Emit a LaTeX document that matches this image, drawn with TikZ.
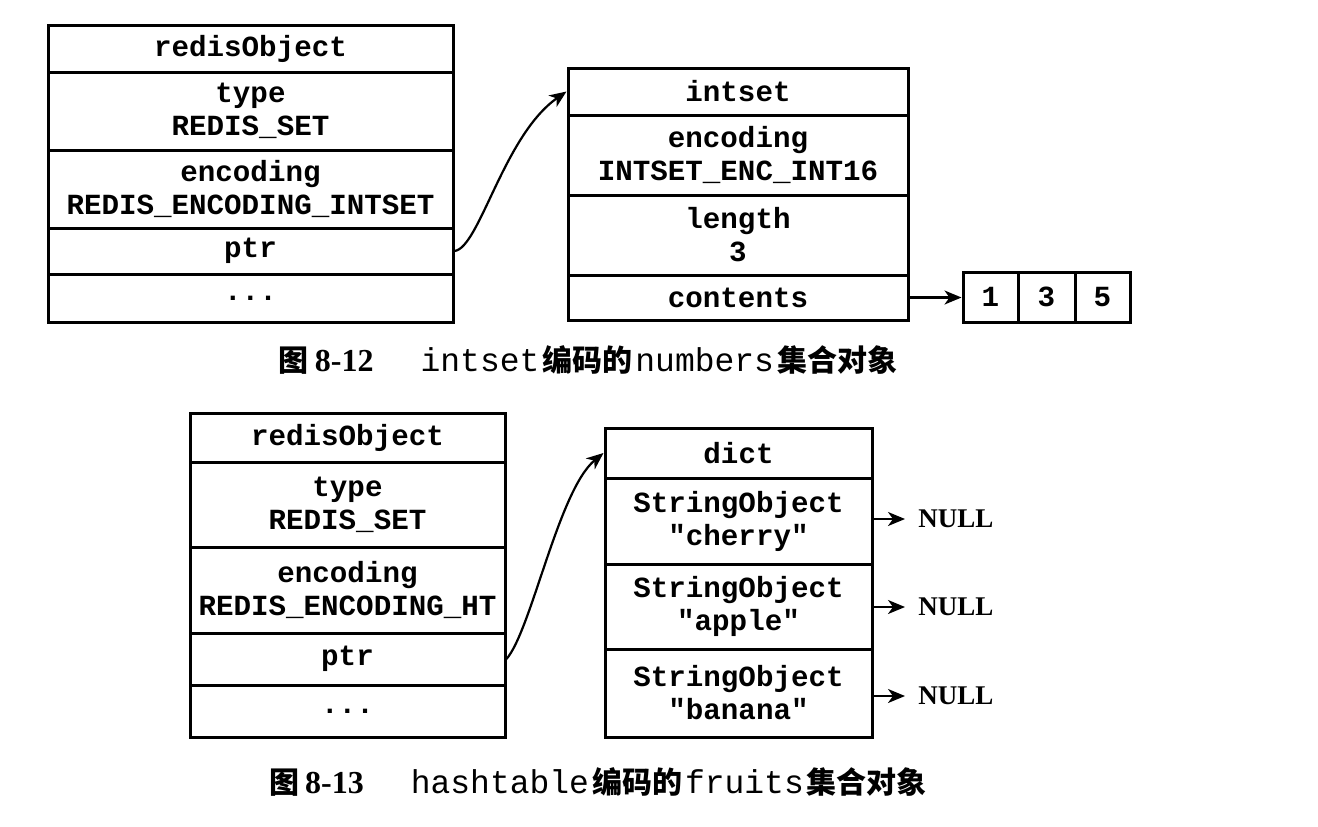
\documentclass[tikz,border=0pt]{standalone}
\usepackage{fontspec}
\setmainfont{Liberation Serif}
\newfontfamily\boxmono{Liberation Mono}
\newfontfamily\cjk{Noto Sans CJK SC}
\usetikzlibrary{arrows.meta}
\tikzset{
  cell/.style={draw, line width=1.5pt, inner sep=0pt, align=center,
    font=\boxmono\bfseries\fontsize{14.6}{16.5}\selectfont},
  ptrarrow/.style={line width=1.1pt, -{Stealth[length=8.5pt,width=7pt,inset=2.5pt]}},
  nulltext/.style={anchor=west, inner xsep=6.5pt, inner ysep=0pt,
    font=\bfseries\fontsize{13.5}{15}\selectfont},
  caption/.style={inner sep=0pt, font=\fontsize{15}{18}\selectfont}
}
\newcommand\cell[6]{%
  \pgfmathsetmacro\cellw{(#4-#2)*0.5}%
  \pgfmathsetmacro\cellh{(#5-#3)*0.5}%
  \node[cell, minimum width=\cellw pt, minimum height=\cellh pt] (#1) at ({(#2+#4)/2},{(#3+#5)/2}) {#6};}
\newcommand\capcjk[1]{{\cjk\bfseries #1}}
\newcommand\capnum[1]{{\bfseries\fontsize{16}{18}\selectfont #1}}
\newcommand\capmono[1]{\hspace{1.5pt}{\boxmono\fontsize{16.5}{18}\selectfont #1}\hspace{1.5pt}}
\begin{document}
\begin{tikzpicture}[x=0.5pt,y=-0.5pt]
\useasboundingbox[fill=white] (0,0) rectangle (1318,826);
% ---- figure 8-12 ----
\cell{ro1}{48}{25}{453}{72}{redisObject}
\cell{type1}{48}{72}{453}{150}{type\\REDIS\_SET}
\cell{enc1}{48}{150}{453}{228}{encoding\\REDIS\_ENCODING\_INTSET}
\cell{ptr1}{48}{228}{453}{274}{ptr}
\cell{etc1}{48}{274}{453}{322}{...}
\cell{is}{568}{68}{908}{115}{intset}
\cell{isenc}{568}{115}{908}{195}{encoding\\INTSET\_ENC\_INT16}
\cell{islen}{568}{195}{908}{275}{length\\3}
\cell{iscont}{568}{275}{908}{320}{contents}
\cell{a1}{963}{272}{1018}{322}{1}
\cell{a2}{1018}{272}{1075}{322}{3}
\cell{a3}{1075}{272}{1130}{322}{5}
\draw[ptrarrow] (ptr1.east) .. controls +(25,-3) and +(-63,44) .. (is.west);
\draw[ptrarrow] (iscont.east) -- (a1.west |- iscont.east);
\node[caption] (cap1) at (588,360) {\capcjk{图}\hspace{3pt}\capnum{8-12}\hspace{22pt}\capmono{intset}\capcjk{编码的}\capmono{numbers}\capcjk{集合对象}};
% ---- figure 8-13 ----
\cell{ro2}{190}{413}{505}{462}{redisObject}
\cell{type2}{190}{462}{505}{547}{type\\REDIS\_SET}
\cell{enc2}{190}{547}{505}{633}{encoding\\REDIS\_ENCODING\_HT}
\cell{ptr2}{190}{633}{505}{685}{ptr}
\cell{etc2}{190}{685}{505}{737}{...}
\cell{dict}{605}{428}{872}{478}{dict}
\cell{s1}{605}{478}{872}{564}{StringObject\\"cherry"}
\cell{s2}{605}{564}{872}{649}{StringObject\\"apple"}
\cell{s3}{605}{649}{872}{737}{StringObject\\"banana"}
\node[nulltext] (n1) at (905,519) {NULL};
\node[nulltext] (n2) at (905,607) {NULL};
\node[nulltext] (n3) at (905,696) {NULL};
\draw[ptrarrow] (s1.east |- n1.west) -- (n1.west);
\draw[ptrarrow] (s2.east |- n2.west) -- (n2.west);
\draw[ptrarrow] (s3.east |- n3.west) -- (n3.west);
\draw[ptrarrow] (ptr2.east) .. controls +(25,-29) and +(-45,37) .. (dict.west);
\node[caption] (cap2) at (598,782) {\capcjk{图}\hspace{3pt}\capnum{8-13}\hspace{22pt}\capmono{hashtable}\capcjk{编码的}\capmono{fruits}\capcjk{集合对象}};
\end{tikzpicture}
\end{document}
